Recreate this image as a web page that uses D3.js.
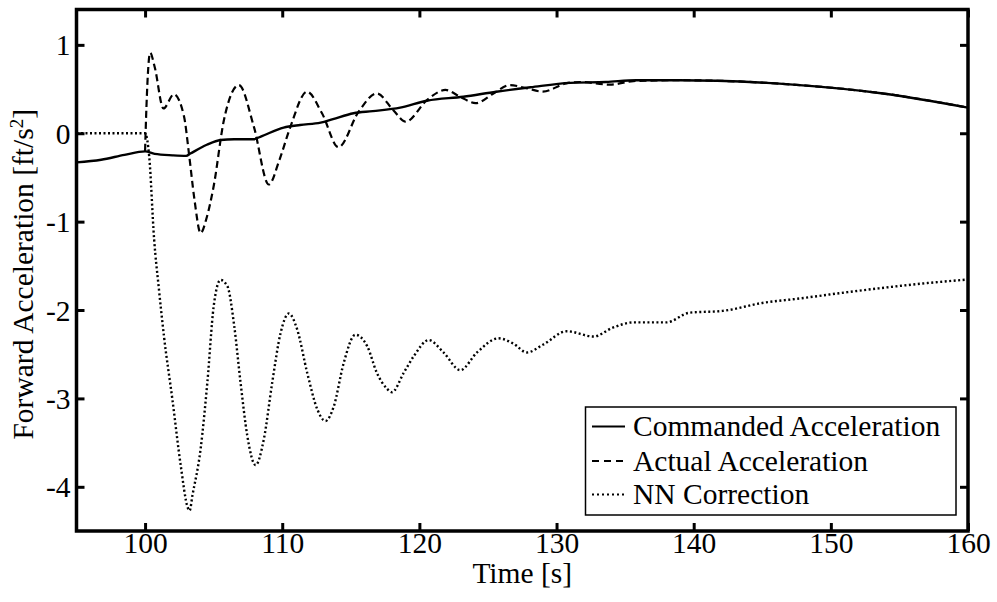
<!DOCTYPE html>
<html>
<head>
<meta charset="utf-8">
<script src="https://cdn.jsdelivr.net/npm/d3@7"></script>
<style>
  html, body { margin: 0; padding: 0; background: #fff; }
  svg { display: block; }
  text { font-family: "Liberation Serif", "Times New Roman", Times, serif; fill: #000; }
</style>
</head>
<body>
<svg id="chart" width="997" height="602"></svg>
<script>
// ---- Data ----
const xTicks = [100, 110, 120, 130, 140, 150, 160];
const yTicks = [1, 0, -1, -2, -3, -4];
const seriesNames = ["Commanded Acceleration", "Actual Acceleration", "NN Correction"];

const commandedT = [95, 96.8, 98.5, 100, 100.7, 102, 103, 103.3, 104.5, 105.5, 106.5, 107.9, 108.4, 110.1, 111.3, 112.8, 113.7, 115.2, 116.6, 118.6, 120.55, 123.2, 125.6, 128.1, 131, 133.6, 135.8, 139, 141.7, 147, 153.8, 160];
const commandedV = [-0.33, -0.30, -0.245, -0.205, -0.234, -0.25, -0.256, -0.23, -0.13, -0.076, -0.068, -0.068, -0.04, 0.064, 0.094, 0.12, 0.16, 0.226, 0.25, 0.29, 0.368, 0.413, 0.47, 0.52, 0.57, 0.58, 0.60, 0.60, 0.594, 0.553, 0.45, 0.29];

const actualT = [100, 100.1, 100.37, 100.7, 101.34, 102.1, 102.84, 103.2, 103.6, 104.05, 104.5, 105.0, 105.75, 106.84, 107.93, 109.02, 109.8, 110.6, 111.8, 112.9, 114.1, 115.57, 116.9, 118.1, 119.0, 120.55, 121.9, 123.0, 124.1, 125.4, 126.6, 127.8, 129.0, 130.7, 131.7, 133.9, 135.6, 139, 141.7, 147, 153.8, 160];
const actualV = [-0.2, 0.3, 0.91, 0.75, 0.28, 0.44, 0.19, -0.23, -0.75, -1.13, -0.95, -0.60, 0.15, 0.545, 0.075, -0.58, -0.30, 0.075, 0.47, 0.226, -0.158, 0.244, 0.45, 0.26, 0.13, 0.375, 0.49, 0.41, 0.34, 0.45, 0.545, 0.51, 0.47, 0.565, 0.58, 0.55, 0.59, 0.60, 0.594, 0.553, 0.45, 0.29];

const nnT = [95, 100, 100.3, 100.66, 101.0, 101.38, 101.99, 102.6, 103.1, 103.25, 103.45, 104.05, 104.54, 105.0, 105.5, 106.0, 106.5, 106.96, 107.45, 108.06, 108.66, 109.27, 109.88, 110.48, 111.09, 111.82, 112.55, 113.15, 113.76, 114.48, 115.33, 116.2, 116.9, 117.64, 118.0, 118.86, 119.6, 120.67, 121.76, 122.98, 124.2, 125.76, 126.86, 127.83, 129.04, 130.75, 132.7, 134.1, 135.6, 138.0, 139.7, 142.1, 145.0, 147.7, 150.6, 154.3, 156.7, 160];
const nnV = [0, 0, -0.26, -1.2, -1.75, -2.30, -3.01, -3.76, -4.23, -4.27, -4.10, -3.57, -2.82, -1.96, -1.66, -1.73, -2.18, -2.82, -3.42, -3.755, -3.46, -2.82, -2.26, -2.04, -2.22, -2.71, -3.12, -3.255, -3.09, -2.60, -2.28, -2.41, -2.71, -2.89, -2.93, -2.71, -2.52, -2.34, -2.48, -2.68, -2.48, -2.32, -2.38, -2.48, -2.39, -2.24, -2.30, -2.20, -2.14, -2.14, -2.03, -2.01, -1.92, -1.87, -1.81, -1.74, -1.70, -1.655];

// ---- Layout ----
const FONT = '"Liberation Serif", "Times New Roman", Times, serif';
const L = 76.5, R = 968, T = 9.5, B = 531;
const svg = d3.select("#chart");
const x = d3.scaleLinear().domain([95, 160]).range([L, R]);
const y = d3.scaleLinear().domain([-4.5, 1.4]).range([B, T]);

svg.append("defs").append("clipPath").attr("id", "clip")
  .append("rect").attr("x", L).attr("y", T).attr("width", R - L).attr("height", B - T);

const zip = (ts, vs) => ts.map((t, i) => [t, vs[i]]);
const line = d3.line().x(d => x(d[0])).y(d => y(d[1])).curve(d3.curveMonotoneX);

const styles = [
  { data: zip(commandedT, commandedV), width: 2.4, dash: null },
  { data: zip(actualT, actualV), width: 2.2, dash: "7,4" },
  { data: zip(nnT, nnV), width: 2.4, dash: "2,2.5" }
];

const plot = svg.append("g").attr("clip-path", "url(#clip)");
styles.forEach(s => {
  plot.append("path").attr("d", line(s.data))
    .attr("fill", "none").attr("stroke", "#000")
    .attr("stroke-width", s.width)
    .attr("stroke-dasharray", s.dash)
    .attr("stroke-linejoin", "round");
});

// ---- Axes (inward ticks on all sides) ----
const tickLen = 8, fs = 29.5;
const fmt = d => String(d);
const axB = svg.append("g").attr("transform", `translate(0,${B})`)
  .call(d3.axisBottom(x).tickValues(xTicks).tickSize(-tickLen).tickSizeOuter(0).tickFormat(fmt));
const axT = svg.append("g").attr("transform", `translate(0,${T})`)
  .call(d3.axisTop(x).tickValues(xTicks).tickSize(-tickLen).tickSizeOuter(0).tickFormat(""));
const axL = svg.append("g").attr("transform", `translate(${L},0)`)
  .call(d3.axisLeft(y).tickValues(yTicks).tickSize(-tickLen).tickSizeOuter(0).tickFormat(fmt));
const axR = svg.append("g").attr("transform", `translate(${R},0)`)
  .call(d3.axisRight(y).tickValues(yTicks).tickSize(-tickLen).tickSizeOuter(0).tickFormat(""));

[axB, axT, axL, axR].forEach(a => {
  a.attr("font-family", FONT);
  a.select(".domain").remove();
  a.selectAll(".tick line").attr("stroke", "#000").attr("stroke-width", 3);
  a.selectAll("text").style("font-family", FONT).style("font-size", fs + "px").attr("fill", "#000");
});
axB.selectAll(".tick text").attr("y", 22).attr("dy", null);
axL.selectAll(".tick text").attr("x", -6).attr("dy", "0.34em");

// frame
svg.append("rect").attr("x", L).attr("y", T).attr("width", R - L).attr("height", B - T)
  .attr("fill", "none").attr("stroke", "#000").attr("stroke-width", 3.5);

// axis titles
svg.append("text").attr("x", (L + R) / 2).attr("y", 583).attr("text-anchor", "middle")
  .style("font-family", FONT).style("font-size", fs + "px").text("Time [s]");

const yl = svg.append("text").attr("transform", `translate(33,${(T + B) / 2 + 4}) rotate(-90)`)
  .attr("text-anchor", "middle").style("font-family", FONT).style("font-size", fs + "px");
yl.append("tspan").text("Forward Acceleration [ft/s");
yl.append("tspan").attr("dy", -10).style("font-size", "19px").text("2");
yl.append("tspan").attr("dy", 10).text("]");

// ---- Legend ----
const lg = svg.append("g");
lg.append("rect").attr("x", 585.5).attr("y", 407).attr("width", 370.5).attr("height", 108)
  .attr("fill", "#fff").attr("stroke", "#000").attr("stroke-width", 1.5);
const rowBase = [436, 470.5, 504];
seriesNames.forEach((name, i) => {
  lg.append("line").attr("x1", 592).attr("x2", 625)
    .attr("y1", rowBase[i] - 9.5).attr("y2", rowBase[i] - 9.5)
    .attr("stroke", "#000").attr("stroke-width", i === 0 ? 2.2 : 2)
    .attr("stroke-dasharray", i === 1 ? "7,5" : (i === 2 ? "2,3" : null));
  lg.append("text").attr("x", 633).attr("y", rowBase[i])
    .style("font-family", FONT).style("font-size", fs + "px").text(name);
});
</script>
</body>
</html>
